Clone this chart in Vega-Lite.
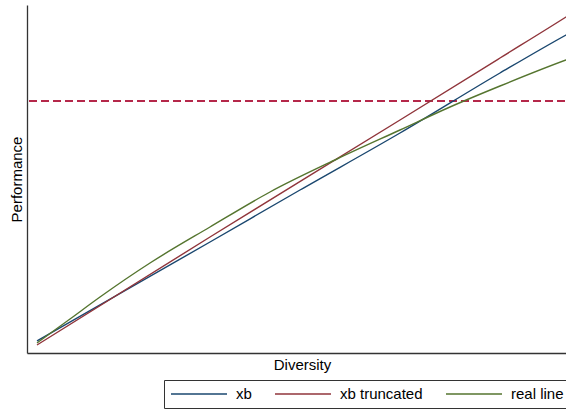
{
  "$schema": "https://vega.github.io/schema/vega-lite/v6.json",
  "width": 550,
  "height": 348,
  "autosize": {"type": "none"},
  "padding": {"left": 27, "top": 5, "right": 20, "bottom": 56},
  "background": "white",
  "config": {
    "view": {"stroke": null},
    "font": "Liberation Sans",
    "axis": {
      "grid": false, "ticks": false, "labels": false,
      "domainColor": "#333333", "domainWidth": 1.3,
      "titleFont": "Liberation Sans", "titleFontSize": 15, "titleFontWeight": "normal", "titleColor": "#000000"
    }
  },
  "data": {
    "values": [
      {"series": "xb", "d": 10, "p": 12},
      {"series": "xb", "d": 183, "p": 111},
      {"series": "xb", "d": 273, "p": 163},
      {"series": "xb", "d": 373, "p": 220},
      {"series": "xb", "d": 473, "p": 280},
      {"series": "xb", "d": 539, "p": 318},
      {"series": "xb", "d": 550, "p": 324},
      {"series": "xb truncated", "d": 10, "p": 8},
      {"series": "xb truncated", "d": 183, "p": 116},
      {"series": "xb truncated", "d": 373, "p": 233},
      {"series": "xb truncated", "d": 473, "p": 295},
      {"series": "xb truncated", "d": 539, "p": 336},
      {"series": "xb truncated", "d": 550, "p": 343},
      {"series": "real line", "d": 10, "p": 10},
      {"series": "real line", "d": 43, "p": 34},
      {"series": "real line", "d": 73, "p": 56},
      {"series": "real line", "d": 123, "p": 90},
      {"series": "real line", "d": 183, "p": 126},
      {"series": "real line", "d": 243, "p": 161},
      {"series": "real line", "d": 310, "p": 194},
      {"series": "real line", "d": 373, "p": 223},
      {"series": "real line", "d": 423, "p": 246},
      {"series": "real line", "d": 473, "p": 267},
      {"series": "real line", "d": 539, "p": 293},
      {"series": "real line", "d": 550, "p": 297}
    ]
  },
  "layer": [
    {
      "mark": {"type": "rule", "color": "#b5284b", "strokeWidth": 1.4, "strokeDash": [8, 4]},
      "encoding": {"y": {"datum": 252, "type": "quantitative", "scale": {"domain": [0, 348]}}}
    },
    {
      "mark": {"type": "line", "strokeWidth": 1.4, "interpolate": "monotone"},
      "encoding": {
        "x": {"field": "d", "type": "quantitative", "scale": {"domain": [0, 550], "nice": false, "zero": false}, "title": "Diversity", "axis": {"titlePadding": 4}},
        "y": {"field": "p", "type": "quantitative", "scale": {"domain": [0, 348], "nice": false}, "title": "Performance", "axis": {"titlePadding": 3}},
        "color": {
          "field": "series", "type": "nominal",
          "scale": {"domain": ["xb", "xb truncated", "real line"], "range": ["#1a476f", "#90353b", "#55752f"]},
          "legend": {
            "title": null, "orient": "none", "legendX": 137, "legendY": 375,
            "direction": "horizontal", "strokeColor": "#333333", "padding": 6,
            "symbolType": "M-1,0H7", "symbolSize": 196, "symbolStrokeWidth": 1.5,
            "labelFontSize": 15, "labelFont": "Liberation Sans", "labelColor": "#000000",
            "labelOffset": 50, "columnPadding": 20
          }
        },
        "order": {"field": "d", "type": "quantitative"}
      }
    }
  ]
}
